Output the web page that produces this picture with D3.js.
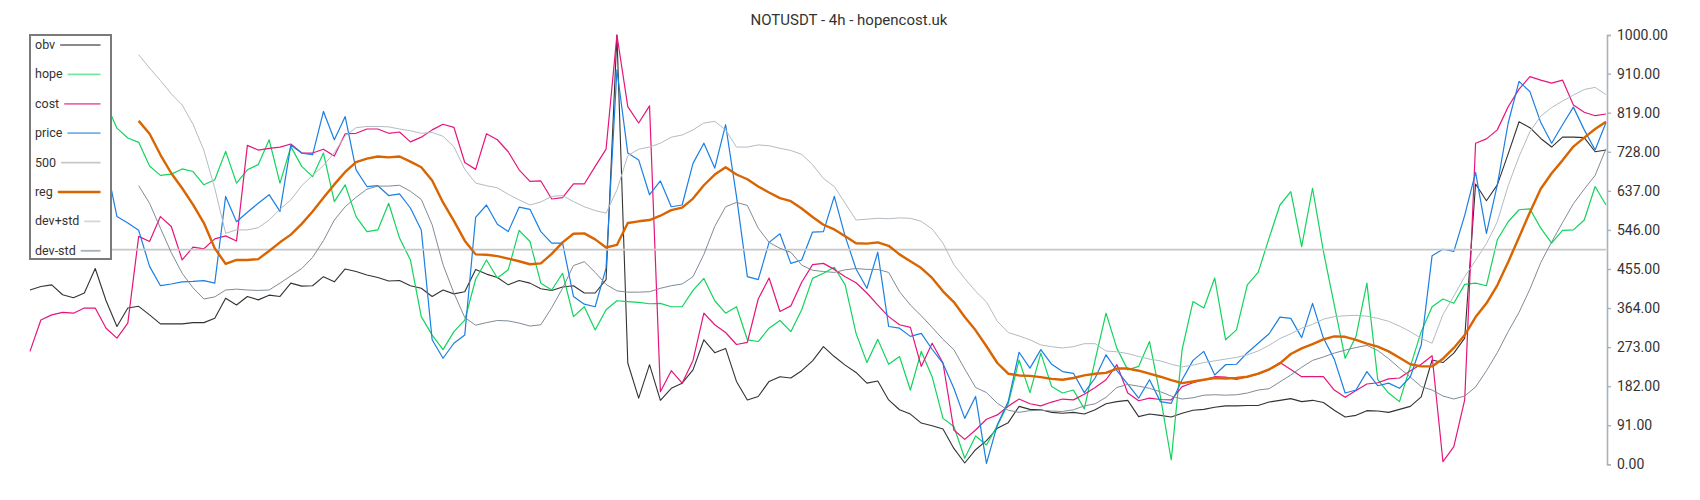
<!DOCTYPE html>
<html><head><meta charset="utf-8">
<script src="https://cdn.jsdelivr.net/npm/d3@7"></script>
<style>body{margin:0;background:#fff;} svg{display:block;font-family:Roboto,"Noto Sans",sans-serif;}</style>
</head><body><svg id="c" width="1700" height="500"></svg>
<script>
const title = "NOTUSDT - 4h - hopencost.uk";
const yTicks = [0,91,182,273,364,455,546,637,728,819,910,1000];
const seriesNames = ["obv","hope","cost","price","500","reg","dev+std","dev-std"];
const level500 = 500;

const obv = [406,414,418,395,388,399,456,381,321,364, 368,348,327,327,327,330,330,340,387,371, 391,383,394,391,422,415,416,437,425,455, 449,441,435,427,428,416,410,391,406,397, 402,454,443,435,418,428,422,409,405,413, 416,399,399,430,1000,236,154,232,149,177, 189,220,290,260,270,193,150,158,193,204, 201,218,241,274,251,231,214,189,194,150, 127,117,96,90,82,37,3,34,55,84, 97,135,128,127,121,119,121,117,127,141, 146,149,111,117,114,110,119,126,128,133, 136,136,137,137,145,149,153,146,149,144, 126,110,114,125,124,121,128,135,157,243, 237,259,294,653,614,651,723,798,784,759, 739,762,762,761,728,732];

const hope = [860,875,850,880,865,870,855,840,783,760, 750,695,673,676,688,682,651,663,729,655, 686,698,756,655,740,694,670,725,612,651, 577,542,546,608,527,476,344,301,267,309, 336,431,476,434,453,545,519,422,406,445, 344,367,313,360,381,379,377,374,375,367, 367,405,433,381,352,367,290,286,317,335, 309,360,433,445,459,418,305,237,291,233, 251,173,263,204,107,88,14,66,45,90, 141,243,167,259,181,166,173,129,243,352, 270,220,228,286,158,10,267,379,364,434, 290,313,418,447,527,604,635,507,643,496, 371,247,298,422,197,166,146,228,309,367, 385,375,419,422,416,523,565,593,595,550, 515,545,546,569,647,604];

const cost = [263,336,348,354,352,364,364,317,294,329, 531,519,577,554,476,506,502,525,532,520, 743,732,736,739,746,725,725,734,718,770, 771,781,781,771,774,751,762,779,792,785, 703,687,770,756,728,686,659,660,618,621, 653,653,694,734,1000,833,795,835,169,218, 189,242,352,325,307,279,284,385,434,356, 369,424,465,468,454,437,423,399,371,344, 325,319,228,282,236,80,58,80,105,115, 135,152,141,136,145,152,150,163,179,197, 232,166,148,154,151,150,181,190,197,204, 203,198,204,210,220,237,221,204,204,204, 173,156,172,187,190,199,201,218,233,253, 6,41,150,748,758,779,833,874,903,895, 888,895,837,820,812,816];

const price = [640,660,700,720,690,710,740,700,577,562, 545,461,416,420,425,426,428,422,624,565, 587,608,628,589,744,725,721,822,756,810, 686,647,649,626,630,597,546,290,247,282, 301,575,604,559,542,599,594,542,515,515, 391,373,367,457,919,725,709,628,660,600, 604,701,748,690,791,624,437,430,517,537, 468,476,541,542,624,531,455,410,494,321, 317,298,305,268,235,177,107,158,2,92, 146,261,224,267,233,216,212,167,201,255, 218,187,154,197,146,142,197,242,263,208, 232,233,260,282,304,343,340,295,375,294, 245,166,173,216,183,189,177,204,278,486, 501,496,580,680,538,651,795,892,868,796, 748,791,832,779,732,796];

const reg = [null,null,null,null,null,null,null,null,null,null, 800,770,721,678,643,605,562,503,467,476, 476,478,497,517,535,560,589,621,652,681, 704,712,717,715,717,705,692,661,610,567, 521,489,488,485,479,473,466,468,490,517, 537,538,524,505,511,562,566,569,579,592, 598,619,650,675,692,675,664,647,633,620, 613,596,576,558,547,531,515,514,517,509, 489,473,457,434,403,378,343,312,275,236, 211,207,206,203,199,197,201,207,211,213, 223,223,218,211,204,196,189,193,197,201, 200,201,204,211,221,235,257,270,280,291, 298,297,290,281,274,263,248,233,228,228, 246,271,301,343,375,417,471,529,587,642, 678,708,740,761,781,798];

const devPlus = [null,null,null,null,null,null,null,null,null,null, 954,923,894,863,837,792,731,643,538,546, 546,551,569,594,616,649,673,696,726,765, 784,787,787,786,781,777,771,773,764,740, 687,655,649,644,629,616,604,611,624,626, 612,600,591,585,639,719,734,739,748,762, 767,779,795,799,779,739,739,744,742,736, 731,722,698,666,647,608,569,571,573,572, 574,573,566,548,515,465,433,403,378,333, 307,299,290,278,274,271,274,281,281,264, 262,258,251,245,241,233,227,231,237,241, 245,249,255,264,277,293,304,317,326,338, 344,346,347,345,340,333,322,309,293,282, 349,392,437,475,514,565,649,717,775,811, 831,846,860,873,878,861];

const devMinus = [null,null,null,null,null,null,null,null,null,null, 649,608,550,493,445,411,385,390,406,408, 406,405,406,422,439,456,482,521,569,600, 622,641,648,648,650,636,617,558,465,399, 342,324,330,335,334,329,322,325,365,410, 463,472,447,419,404,401,401,402,410,416, 420,437,489,554,600,610,603,550,517,503, 494,464,452,449,447,453,456,454,454,447, 402,371,346,319,291,267,222,179,167,142, 126,121,125,126,124,123,127,136,141,156, 179,186,182,177,169,159,152,155,161,162, 161,162,166,173,176,192,208,226,242,250, 259,266,272,277,265,246,224,203,181,173, 159,152,159,180,218,260,309,354,408,470, 518,563,607,641,673,735];

const svg = d3.select("#c");
const x = d3.scaleLinear().domain([0, obv.length - 1]).range([30, 1606]);
const y = d3.scaleLinear().domain([0, 1000]).range([464.3, 35]);

const plotColors = {"obv":"#333333","hope":"#12d45c","cost":"#e5157b","price":"#1b7fe3","500":"#c6c6c6","reg":"#d96400","dev+std":"#b3bbc3","dev-std":"#808b96"};
const legendColors = {"obv":"#8a8a8a","hope":"#74e8a4","cost":"#ef6aa9","price":"#70b0ee","500":"#c8c8c8","reg":"#d96400","dev+std":"#d2d7dc","dev-std":"#a6afb8"};
const widths = {"obv":1.1,"hope":1.2,"cost":1.2,"price":1.2,"500":1.6,"reg":2.4,"dev+std":1,"dev-std":1};

const line = d3.line().defined(d => d != null).x((d,i) => x(i)).y(d => y(d));
function drawSeries(name, data){
  svg.append("path").datum(data)
    .attr("fill","none").attr("stroke",plotColors[name]).attr("stroke-width",widths[name])
    .attr("stroke-linejoin","round").attr("d",line);
}
drawSeries("obv", obv);
drawSeries("hope", hope);
drawSeries("cost", cost);
drawSeries("price", price);
svg.append("line")
  .attr("x1", x(0)).attr("x2", x(obv.length-1))
  .attr("y1", y(level500)).attr("y2", y(level500))
  .attr("stroke", plotColors["500"]).attr("stroke-width", widths["500"]);
drawSeries("reg", reg);
drawSeries("dev+std", devPlus);
drawSeries("dev-std", devMinus);

// axis
const axis = d3.axisRight(y).tickValues(yTicks).tickFormat(d3.format(".2f")).tickSize(4).tickSizeOuter(4).tickPadding(6);
const ag = svg.append("g").attr("transform","translate(1607,0)").call(axis);
ag.select(".domain").attr("stroke","#aab2ba").attr("stroke-width",1.6);
ag.selectAll(".tick line").attr("stroke","#aab2ba").attr("stroke-width",1.4);
ag.selectAll(".tick text").attr("fill","#333").style("font-size","14px").style("font-family","Roboto");

// title
svg.append("text").attr("x",849).attr("y",25).attr("text-anchor","middle")
  .style("font-size","15px").attr("fill","#333").text(title);

// legend
const lg = svg.append("g");
lg.append("rect").attr("x",30).attr("y",35).attr("width",81).attr("height",224)
  .attr("fill","#fff").attr("stroke","#7a7a7a").attr("stroke-width",2);
seriesNames.forEach((name, i) => {
  const cy = 45 + i * 29.4;
  const t = lg.append("text").attr("x",35).attr("y",cy+4).style("font-size","12.5px").attr("fill","#333").text(name);
  const tw = t.node().getComputedTextLength();
  lg.append("line").attr("x1",35+tw+5).attr("x2",100.5).attr("y1",cy).attr("y2",cy)
    .attr("stroke",legendColors[name]).attr("stroke-width", name==="reg"?2.4:1.8);
});
</script></body></html>
